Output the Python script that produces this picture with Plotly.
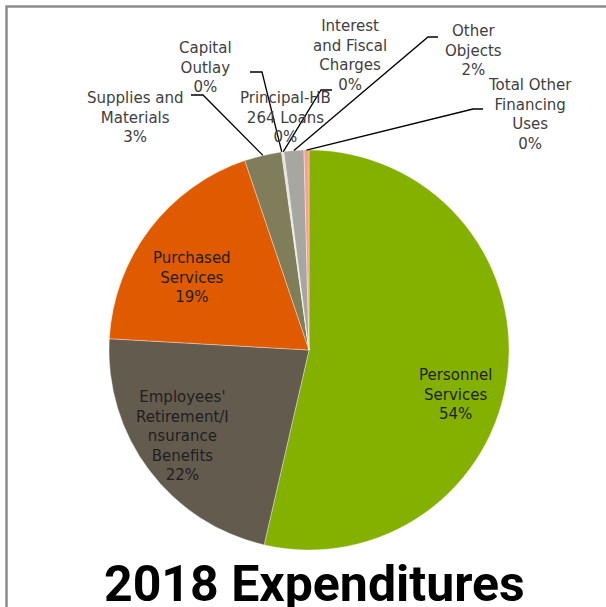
import math
import plotly.graph_objects as go

# 2018 expenditure breakdown (percent of total)
categories = [
    "Personnel Services",
    "Employees' Retirement/Insurance Benefits",
    "Purchased Services",
    "Supplies and Materials",
    "Capital Outlay",
    "Principal-HB 264 Loans",
    "Interest and Fiscal Charges",
    "Other Objects",
    "Total Other Financing Uses",
]
values = [53.6, 22.3, 18.9, 3.0, 0.05, 0.05, 0.1, 1.6, 0.4]
colors = ["#84B000", "#645B4F", "#E05A00", "#7F7D5A", "#C9B98F",
          "#B8A58A", "#D6CFC3", "#A8A6A1", "#F6A28C"]

# text shown for each slice (line-broken the way it is displayed)
label_lines = [
    "Personnel<br>Services",
    "Employees'<br>Retirement/I<br>nsurance<br>Benefits",
    "Purchased<br>Services",
    "Supplies and<br>Materials",
    "Capital<br>Outlay",
    "Principal-HB<br>264 Loans",
    "Interest<br>and Fiscal<br>Charges",
    "Other<br>Objects",
    "Total Other<br>Financing<br>Uses",
]

W, H = 606, 607
CX, CY, R = 309, 350, 200  # pie centre and radius in pixels


def px(x):
    return x / W


def py(y):
    return 1 - y / H


total = sum(values)
pcts = [round(v / total * 100) for v in values]

fig = go.Figure(go.Pie(
    labels=categories,
    values=values,
    sort=False,
    direction="clockwise",
    rotation=0,
    marker=dict(colors=colors, line=dict(color="rgba(255,255,255,0.6)", width=0.6)),
    textinfo="none",
    hoverinfo="label+percent",
    showlegend=False,
    domain=dict(x=[px(CX - R), px(CX + R)], y=[py(CY + R), py(CY - R)]),
))

# label placement: (centre x, centre y, text colour, leader elbow or None)
placement = [
    (455, 394, "#1f1f1f", None),
    (182, 436, "#1f1f1f", None),
    (192, 277, "#1f1f1f", None),
    (135, 117, "#404040", [(191, 95), (203, 95)]),
    (205, 67, "#404040", [(250, 72), (262, 72)]),
    (285, 117, "#404040", None),
    (350, 56, "#404040", [(332, 90), (321, 90)]),
    (473, 50, "#404040", [(438, 37), (428, 37)]),
    (530, 114, "#404040", [(483, 109), (473, 109)]),
]

annotations = []
shapes = []
cum = 0.0
for i, v in enumerate(values):
    mid = (cum + v / 2) / total * 2 * math.pi
    cum += v
    x, y, col, elbow = placement[i]
    annotations.append(dict(
        x=px(x), y=py(y), xref="paper", yref="paper",
        text=f"{label_lines[i]}<br>{pcts[i]}%",
        showarrow=False, align="center", xanchor="center", yanchor="middle",
        font=dict(family="DejaVu Sans", size=15, color=col),
    ))
    if elbow:
        # leader: from the slice edge to the elbow, then a short horizontal run
        ex = CX + R * math.sin(mid)
        ey = CY - R * math.cos(mid)
        pts = [(ex, ey)] + [elbow[1], elbow[0]]
        path = "M {} {} ".format(px(pts[0][0]), py(pts[0][1]))
        path += " ".join("L {} {}".format(px(a), py(b)) for a, b in pts[1:])
        shapes.append(dict(type="path", xref="paper", yref="paper", path=path,
                           line=dict(color="#000000", width=1.3)))

# chart area frame
shapes.append(dict(type="rect", xref="paper", yref="paper",
                   x0=px(6.5), y0=py(640), x1=px(640), y1=py(6.5),
                   line=dict(color="#8C8C8C", width=2.5)))

annotations.append(dict(
    x=px(314), y=py(584), xref="paper", yref="paper",
    text="2018 Expenditures", showarrow=False,
    xanchor="center", yanchor="middle",
    font=dict(family="Roboto", size=50, color="#000000", weight="bold"),
))

fig.update_layout(
    width=W, height=H,
    margin=dict(l=0, r=0, t=0, b=0),
    paper_bgcolor="white", plot_bgcolor="white",
    annotations=annotations, shapes=shapes,
)

fig.write_html("out.html")
